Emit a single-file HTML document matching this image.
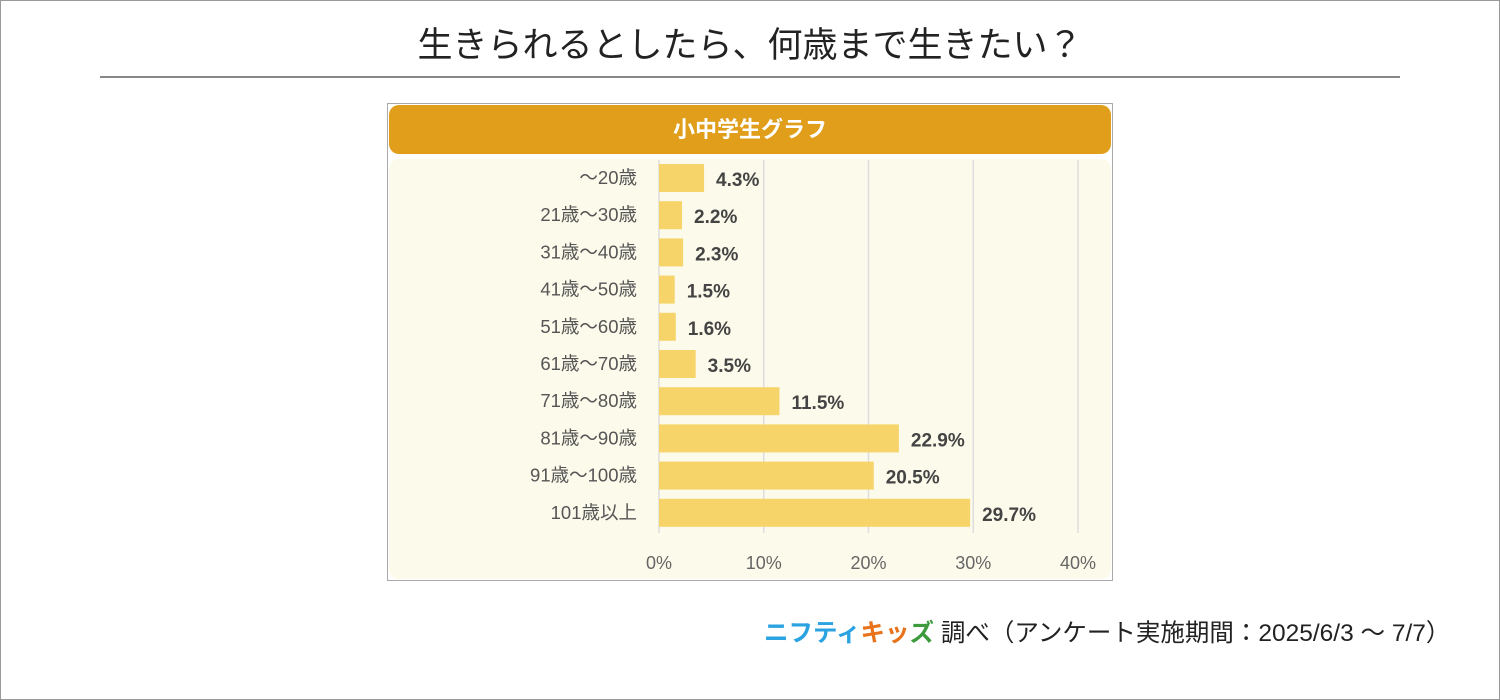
<!DOCTYPE html>
<html><head><meta charset="utf-8"><style>
body{margin:0;width:1500px;height:700px;background:#fff;font-family:"Liberation Sans","Noto Sans CJK JP",sans-serif;overflow:hidden}
#frame{position:absolute;left:0;top:0;width:1498px;height:698px;border:1px solid #999}
#title{position:absolute;left:0;width:1500px;top:26px;text-align:center;font-size:35px;color:#222;line-height:40px}
#rule{position:absolute;left:100px;top:76px;width:1300px;height:2px;background:#888}
#box{position:absolute;left:387px;top:103px;width:724px;height:476px;border:1px solid #aaa;background:#fff}
#head{position:absolute;left:1px;top:1px;width:722px;height:49px;background:#E09E1A;border-radius:10px;color:#fff;font-weight:bold;font-size:22px;text-align:center;line-height:49px}
#plot{position:absolute;left:1px;top:55px;width:722px;height:420px;background:#FCFAEA;border-radius:10px}
#foot{position:absolute;left:764px;top:614px;font-size:24.5px;color:#222;white-space:nowrap}
</style></head><body>
<div id="frame"></div>
<div id="title">生きられるとしたら、何歳まで生きたい？</div>
<div id="rule"></div>
<div id="box">
<div id="head">小中学生グラフ</div>
<div id="plot"></div>
</div>
<svg id="svg" width="1500" height="700" style="position:absolute;left:0;top:0"></svg>
<div id="foot"><span style="color:#2BA3E0;font-weight:bold">ニフティ</span><span style="color:#E8731A;font-weight:bold">キッ</span><span style="color:#3D9A3D;font-weight:bold">ズ</span> 調べ（アンケート実施期間：2025/6/3 ～ 7/7）</div>
<script>
const categories=["～20歳","21歳～30歳","31歳～40歳","41歳～50歳","51歳～60歳","61歳～70歳","71歳～80歳","81歳～90歳","91歳～100歳","101歳以上"];
const values=[4.3,2.2,2.3,1.5,1.6,3.5,11.5,22.9,20.5,29.7];
const ticks=[0,10,20,30,40];
const NS="http://www.w3.org/2000/svg";
const svg=document.getElementById('svg');
const x=v=>659+v*10.475;
const y=i=>178+i*37.2;
function mk(t,a){const e=document.createElementNS(NS,t);for(const k in a)e.setAttribute(k,a[k]);svg.appendChild(e);return e;}
ticks.forEach(t=>{
const l=mk('line',{x1:x(t),x2:x(t),y1:160,y2:533,stroke:'#ddd','stroke-width':1.5});


const tx=mk('text',{x:x(t),y:569,'text-anchor':'middle','font-size':18,fill:'#666'});
tx.textContent=t+'%';


});
categories.forEach((c,i)=>{
const lb=mk('text',{x:637,y:y(i)+6,'text-anchor':'end','font-size':18.5,fill:'#555'});
lb.textContent=c;


const r=mk('rect',{x:x(0),y:y(i)-14,width:x(values[i])-x(0),height:28,fill:'#F7D46A'});


const v=mk('text',{x:x(values[i])+12,y:y(i)+8,'font-size':19,'font-weight':'bold',fill:'#444'});
v.textContent=values[i]+'%';


});
</script>
</body></html>
